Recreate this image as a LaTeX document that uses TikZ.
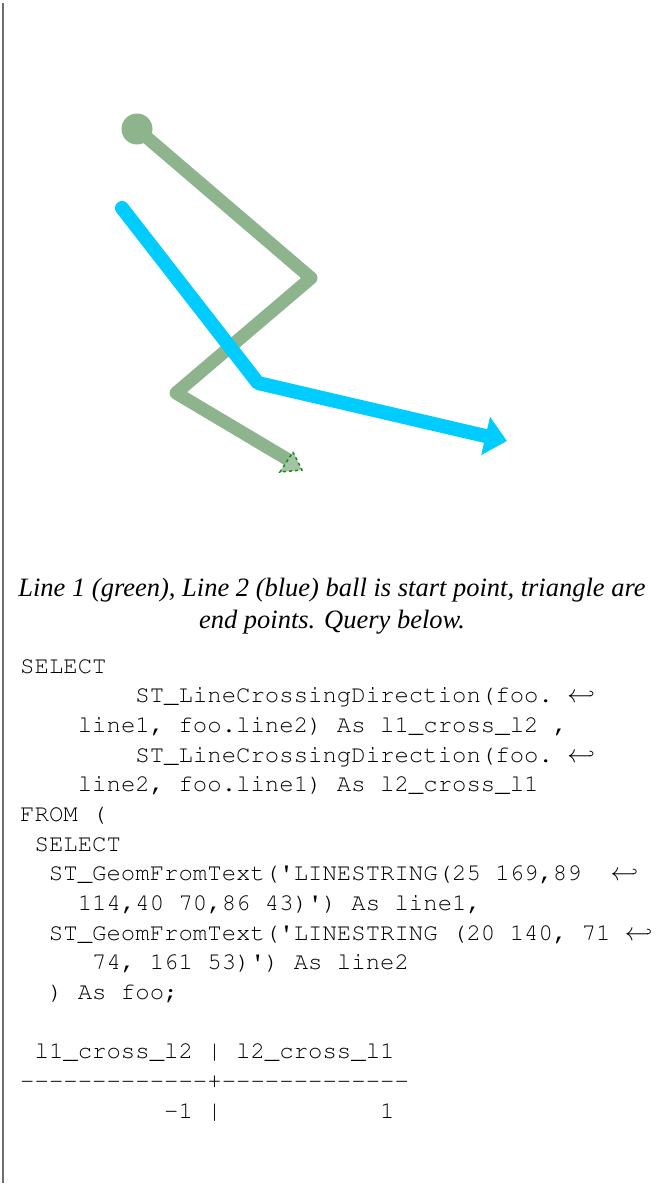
\documentclass[tikz,border=0pt]{standalone}
\usepackage{fontspec}
\setmainfont{Liberation Serif}
\usetikzlibrary{arrows.meta}

\definecolor{lineone}{RGB}{141,180,141}
\definecolor{linetwo}{RGB}{0,204,255}
\definecolor{endmark}{RGB}{20,140,20}
\definecolor{framegray}{RGB}{110,110,110}

\newcommand{\sqlfont}{\fontencoding{T1}\fontfamily{pcr}\selectfont}
\newlength{\cw}
\setlength{\cw}{14.4pt}
\newcommand{\ind}[1]{\hspace*{#1\cw}}
\newcommand{\q}{\textquotesingle}
\newcommand{\brk}{$\hookleftarrow$}

\tikzset{
  caption/.style={font=\fontsize{26.5}{32}\selectfont\itshape, inner sep=0pt, anchor=base},
  sql/.style={font=\fontsize{24}{29.6}\sqlfont, inner sep=0pt, anchor=base west},
}

\begin{document}
\begin{tikzpicture}[x=1pt, y=-1pt]
    \useasboundingbox (0,0) rectangle (664,1187);

    \draw[framegray, line width=1.5pt] (3,3) -- (3,1183);

    % line 1 (green)
    \node[circle, fill=lineone, minimum size=31pt, inner sep=0pt] (greenstart) at (137,129) {};
    \coordinate (g1) at (311,278);
    \coordinate (g2) at (176,393);
    \coordinate (gend) at (292,462);
    \draw[lineone, line width=13pt, line join=round] (greenstart.center) -- (g1) -- (g2) -- (gend);
    \draw[endmark, dashed, line width=1.5pt, fill=lineone!80] (293,452) -- (302,470) -- (280,472) -- cycle;

    % line 2 (blue)
    \coordinate (bluestart) at (122,208);
    \coordinate (b1) at (258,383);
    \coordinate (bend) at (507,441);
    \draw[linetwo, line width=14pt, line cap=round, line join=round,
          -{Triangle[length=22pt,width=38pt]}] (bluestart) -- (b1) -- (bend);

    \node[caption] (cap1) at (332,596) {Line 1 (green), Line 2 (blue) ball is start point, triangle are};
    \node[caption] (cap2) at (332,628) {end points. Query below.};

    \node[sql] (s1) at (20,673.0) {SELECT};
    \node[sql] (s2) at (20,702.7) {\ind{8}ST\_LineCrossingDirection(foo.\ind{1}\brk};
    \node[sql] (s3) at (20,732.3) {\ind{4}line1, foo.line2) As l1\_cross\_l2 ,};
    \node[sql] (s4) at (20,762.0) {\ind{8}ST\_LineCrossingDirection(foo.\ind{1}\brk};
    \node[sql] (s5) at (20,791.7) {\ind{4}line2, foo.line1) As l2\_cross\_l1};
    \node[sql] (s6) at (20,821.3) {FROM (};
    \node[sql] (s7) at (20,851.0) {\ind{1}SELECT};
    \node[sql] (s8) at (20,880.7) {\ind{2}ST\_GeomFromText(\q LINESTRING(25 169,89\ind{2}\brk};
    \node[sql] (s9) at (20,910.3) {\ind{4}114,40 70,86 43)\q) As line1,};
    \node[sql] (s10) at (20,940.0) {\ind{2}ST\_GeomFromText(\q LINESTRING (20 140, 71\ind{1}\brk};
    \node[sql] (s11) at (20,969.7) {\ind{5}74, 161 53)\q) As line2};
    \node[sql] (s12) at (20,999.3) {\ind{2}) As foo;};
    \node[sql] (s13) at (20,1058.7) {\ind{1}l1\_cross\_l2 | l2\_cross\_l1};
    \node[sql] (s14) at (20,1088.3) {-{}-{}-{}-{}-{}-{}-{}-{}-{}-{}-{}-{}-{}+-{}-{}-{}-{}-{}-{}-{}-{}-{}-{}-{}-{}-{}};
    \node[sql] (s15) at (20,1118.0) {\ind{10}-1 |\ind{11}1};

\end{tikzpicture}
\end{document}
